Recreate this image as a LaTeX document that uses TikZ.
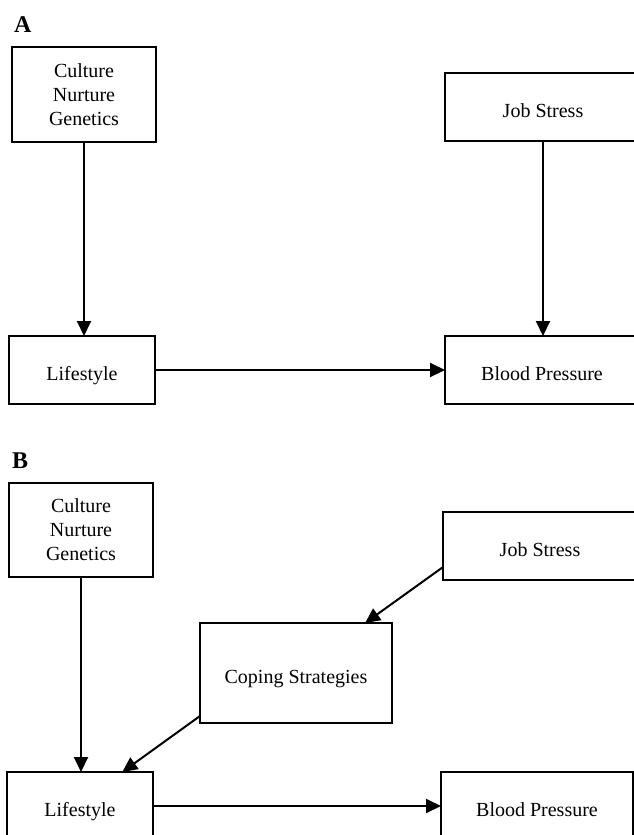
\documentclass[tikz,border=0pt]{standalone}
\usepackage{fontspec}
\setmainfont{Liberation Serif}
\usetikzlibrary{arrows.meta,calc}
\tikzset{
  box/.style={draw, line width=2pt, inner sep=0pt, outer sep=0pt,
    font=\fontsize{20}{24}\selectfont, align=center},
  one/.style={text height=20pt, text depth=0pt},
  conn/.style={line width=2pt, -{Triangle[length=15pt,width=14pt]}},
  panel/.style={font=\fontsize{24}{28}\selectfont\bfseries, inner sep=0pt, anchor=base west}
}
\begin{document}
\begin{tikzpicture}[x=1pt,y=-1pt]
\useasboundingbox (0,0) rectangle (634,835);
\clip (0,0) rectangle (634,835);
\fill[white] (0,0) rectangle (634,835);
% Panel A
\node[panel] (labA) at (14,32) {A};
\node[box, minimum width=144pt, minimum height=95pt] (cultA) at (84,94.5) {Culture\\Nurture\\Genetics};
\node[box, one, minimum width=196pt, minimum height=68pt] (jobA) at (543,107) {Job Stress};
\node[box, one, minimum width=146pt, minimum height=68pt] (lifeA) at (82,370) {Lifestyle};
\node[box, one, minimum width=194pt, minimum height=68pt] (bpA) at (542,370) {Blood Pressure};
\draw[conn] (cultA.south) -- (cultA.south |- lifeA.north);
\draw[conn] (jobA.south) -- (jobA.south |- bpA.north);
\draw[conn] (lifeA.east) -- (bpA.west |- lifeA.east);
% Panel B
\node[panel] (labB) at (12,468) {B};
\node[box, minimum width=144pt, minimum height=94pt] (cultB) at (81,530) {Culture\\Nurture\\Genetics};
\node[box, one, minimum width=194pt, minimum height=68pt] (jobB) at (540,546) {Job Stress};
\node[box, one, minimum width=192pt, minimum height=100pt] (copeB) at (296,673) {Coping Strategies};
\node[box, one, minimum width=146pt, minimum height=68pt] (lifeB) at (80,806) {Lifestyle};
\node[box, one, minimum width=192pt, minimum height=68pt] (bpB) at (537,806) {Blood Pressure};
\draw[conn] (cultB.south) -- (cultB.south |- lifeB.north);
\draw[conn] ($(jobB.south west)!0.19!(jobB.north west)$) -- ($(copeB.north west)!0.86!(copeB.north east)$);
\draw[conn] ($(copeB.south west)!0.07!(copeB.north west)$) -- ($(lifeB.north west)!0.79!(lifeB.north east)$);
\draw[conn] (lifeB.east) -- (bpB.west |- lifeB.east);
\end{tikzpicture}
\end{document}
